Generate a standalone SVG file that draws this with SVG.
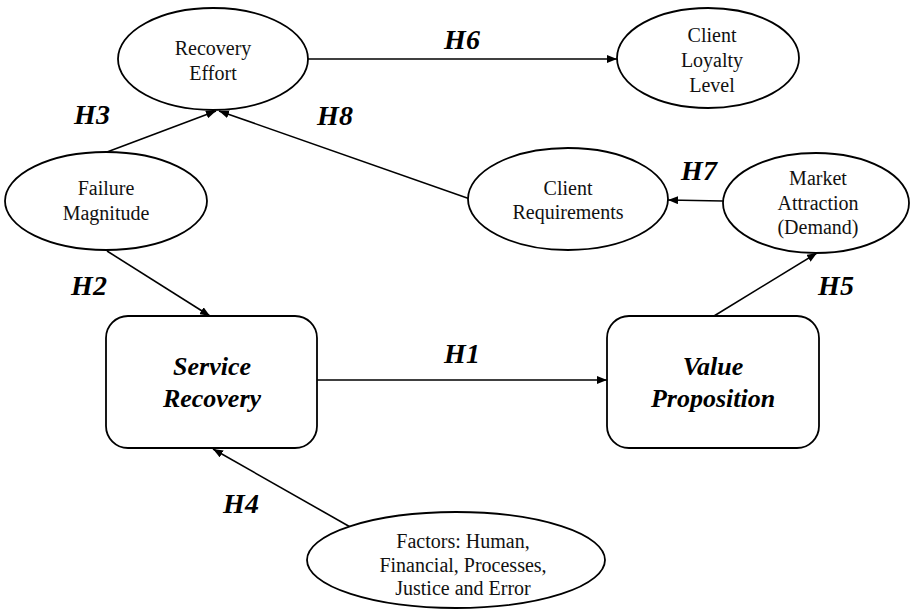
<svg xmlns="http://www.w3.org/2000/svg" width="912" height="611" viewBox="0 0 912 611">
<style>
.n{fill:#fff;stroke:#000;stroke-width:1.8}
.t{font-family:"Liberation Serif","Times New Roman",serif;font-size:20px;fill:#111;text-anchor:middle}
.b{font-family:"Liberation Serif","Times New Roman",serif;font-size:26px;font-weight:bold;font-style:italic;fill:#000;text-anchor:middle}
.h{font-family:"Liberation Serif","Times New Roman",serif;font-size:28px;font-weight:bold;font-style:italic;fill:#000;text-anchor:middle}
.c{fill:none;stroke:#000;stroke-width:1.6;marker-end:url(#a)}
</style>
<defs>
<marker id="a" viewBox="0 0 10 8" refX="10" refY="4" markerWidth="10" markerHeight="8" markerUnits="userSpaceOnUse" orient="auto">
<path d="M0,0 L10,4 L0,8 Z" fill="#000"/>
</marker>
</defs>
<g id="connectors">
<line class="c" x1="308" y1="59" x2="617" y2="59"/>
<line class="c" x1="107" y1="152" x2="216" y2="111"/>
<line class="c" x1="470" y1="199" x2="219" y2="111"/>
<line class="c" x1="723" y1="201" x2="668" y2="200"/>
<line class="c" x1="714" y1="316" x2="817" y2="253"/>
<line class="c" x1="107" y1="251" x2="210" y2="316"/>
<line class="c" x1="317" y1="380" x2="607" y2="380"/>
<line class="c" x1="352" y1="528" x2="213" y2="449"/>
</g>
<g id="labels">
<text class="h" x="462" y="49">H6</text>
<text class="h" x="92" y="124">H3</text>
<text class="h" x="335" y="125">H8</text>
<text class="h" x="699" y="180">H7</text>
<text class="h" x="836" y="295">H5</text>
<text class="h" x="89" y="295">H2</text>
<text class="h" x="462" y="363">H1</text>
<text class="h" x="241" y="513">H4</text>
</g>
<g id="recovery-effort">
<ellipse class="n" cx="213" cy="59" rx="95" ry="51"/>
<text class="t" x="213" y="55">Recovery</text>
<text class="t" x="213" y="80">Effort</text>
</g>
<g id="client-loyalty">
<ellipse class="n" cx="708" cy="58" rx="91" ry="50"/>
<text class="t" x="712" y="42">Client</text>
<text class="t" x="712" y="67">Loyalty</text>
<text class="t" x="712" y="92">Level</text>
</g>
<g id="failure-magnitude">
<ellipse class="n" cx="106" cy="201" rx="101" ry="49"/>
<text class="t" x="106" y="195">Failure</text>
<text class="t" x="106" y="220">Magnitude</text>
</g>
<g id="client-requirements">
<ellipse class="n" cx="568" cy="199" rx="100" ry="51"/>
<text class="t" x="568" y="195">Client</text>
<text class="t" x="568" y="219">Requirements</text>
</g>
<g id="market-attraction">
<ellipse class="n" cx="816" cy="203" rx="93" ry="50"/>
<text class="t" x="818" y="185">Market</text>
<text class="t" x="818" y="210">Attraction</text>
<text class="t" x="818" y="234">(Demand)</text>
</g>
<g id="service-recovery">
<rect class="n" x="106" y="316" width="211" height="132" rx="22"/>
<text class="b" x="212" y="375">Service</text>
<text class="b" x="212" y="407">Recovery</text>
</g>
<g id="value-proposition">
<rect class="n" x="607" y="316" width="212" height="132" rx="22"/>
<text class="b" x="713" y="375">Value</text>
<text class="b" x="713" y="407">Proposition</text>
</g>
<g id="factors">
<ellipse class="n" cx="456" cy="560" rx="149" ry="48"/>
<text class="t" x="463" y="548">Factors: Human,</text>
<text class="t" x="463" y="572">Financial, Processes,</text>
<text class="t" x="463" y="595">Justice and Error</text>
</g>
</svg>
